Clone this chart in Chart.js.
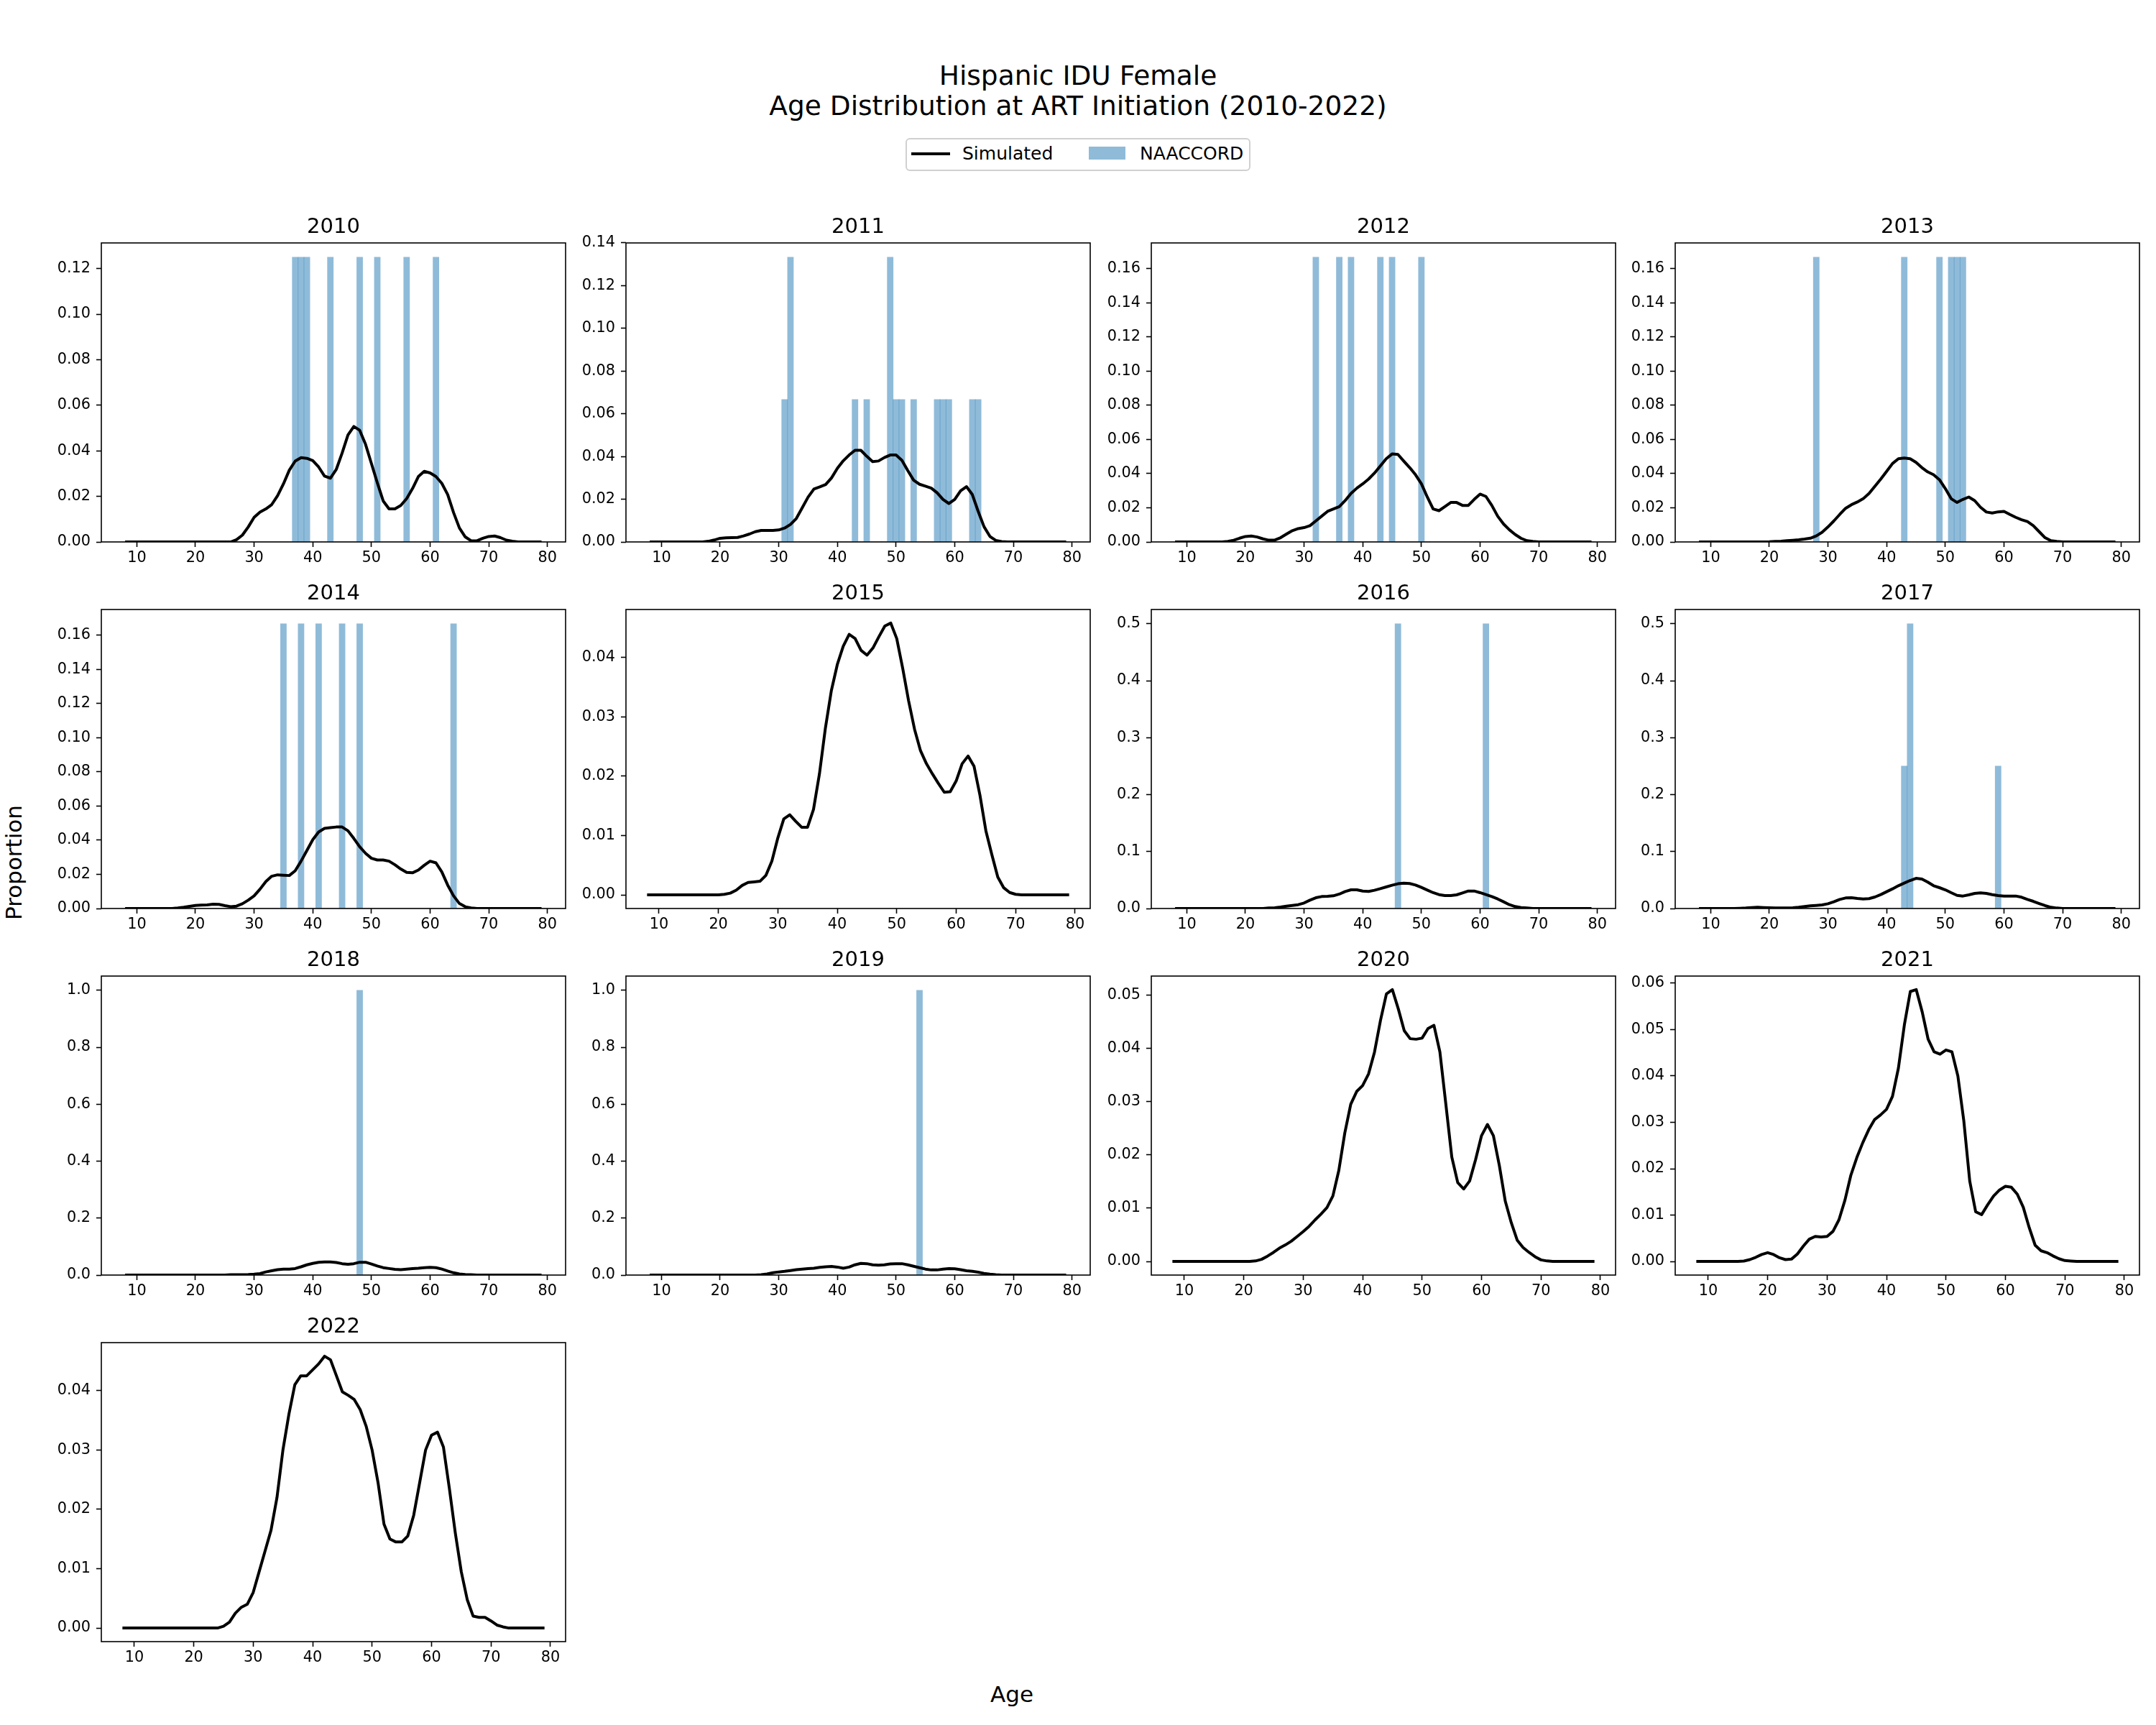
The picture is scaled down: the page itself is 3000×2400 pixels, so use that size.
<!DOCTYPE html>
<html><head><meta charset="utf-8">
<script src="https://cdn.jsdelivr.net/npm/chart.js@4"></script>
<style>
html,body{margin:0;padding:0;background:#fff;}
body{width:3000px;height:2400px;position:relative;overflow:hidden;font-family:"DejaVu Sans";}
canvas{position:absolute;}
.txt{position:absolute;color:#000;white-space:nowrap;font-family:"DejaVu Sans";}
</style></head><body>
<div class="txt" style="left:0;width:3000px;top:84px;text-align:center;font-size:37.5px;line-height:42px;">Hispanic IDU Female<br>Age Distribution at ART Initiation (2010-2022)</div>
<div style="position:absolute;left:1260px;top:192px;width:476px;height:42px;border:2px solid #d0d0d0;border-radius:6px;background:#fff;"></div>
<div style="position:absolute;left:1268px;top:212px;width:54px;height:4px;background:#000;"></div>
<div class="txt" style="left:1339px;top:199px;font-size:25px;line-height:30px;">Simulated</div>
<div style="position:absolute;left:1515px;top:204px;width:51px;height:18px;background:rgba(31,119,180,0.5);"></div>
<div class="txt" style="left:1586px;top:199px;font-size:25px;line-height:30px;">NAACCORD</div>
<div class="txt" style="left:19px;top:1200px;font-size:31px;transform:translate(-50%,-50%) rotate(-90deg);">Proportion</div>
<div class="txt" style="left:1408px;top:2357px;font-size:31px;transform:translate(-50%,-50%);">Age</div>
<script>
// ---------------- DATA ----------------
const years = [2010,2011,2012,2013,2014,2015,2016,2017,2018,2019,2020,2021,2022];
const ages = [8,9,10,11,12,13,14,15,16,17,18,19,20,21,22,23,24,25,26,27,28,29,30,31,32,33,34,35,36,37,38,39,40,41,42,43,44,45,46,47,48,49,50,51,52,53,54,55,56,57,58,59,60,61,62,63,64,65,66,67,68,69,70,71,72,73,74,75,76,77,78,79];
const xTicks = [10,20,30,40,50,60,70,80];

// Simulated proportions by age (ages 8..79)
const sim2010 = [0,0,0,0,0,0,0,0,0,0,0,0,0,0,0,0,0,0,0,
 0.001,0.003,0.0066,0.0108,0.0131,0.0145,0.0164,0.0203,0.0255,0.0315,0.0355,0.037,0.0367,0.0357,0.0329,0.0289,0.028,0.0318,0.039,0.047,0.0507,0.049,0.0428,0.0344,0.026,0.018,0.0145,0.0145,0.016,0.019,0.0234,0.0287,0.031,0.0303,0.0287,0.0257,0.0208,0.0129,0.0061,0.0022,0.0005,0.0005,0.0016,0.0024,0.0026,0.0019,0.0008,0.0003,
 0,0,0,0,0];
const sim2011 = [0,0,0,0,0,0,0,0,0,0,
 0.0003,0.0009,0.0017,0.0019,0.002,0.0021,0.0028,0.0037,0.0048,0.0054,0.0054,0.0054,0.0056,0.0065,0.0082,0.011,0.016,0.021,0.0248,0.0258,0.0269,0.030,0.0345,0.038,0.0407,0.0429,0.0429,0.0401,0.0376,0.0379,0.0395,0.0407,0.0407,0.0382,0.0334,0.0289,0.027,0.0261,0.0252,0.023,0.0199,0.018,0.0199,0.0239,0.0259,0.0222,0.0143,0.0071,0.0026,0.0007,0.0002,
 0,0,0,0,0,0,0,0,0,0,0];
const sim2012 = [0,0,0,0,0,0,0,0,0,
 0.0003,0.001,0.0022,0.0032,0.0035,0.0029,0.0018,0.001,0.0011,0.0025,0.0046,0.0066,0.0078,0.0084,0.0095,0.0123,0.0151,0.0179,0.0193,0.0207,0.0242,0.0284,0.0315,0.034,0.0368,0.0403,0.0445,0.0487,0.0515,0.0512,0.0473,0.0435,0.0393,0.034,0.0263,0.0193,0.0183,0.0207,0.0231,0.0231,0.0214,0.0214,0.0249,0.028,0.0266,0.0214,0.0151,0.0105,0.0071,0.0043,0.0021,0.0007,0.0003,
 0,0,0,0,0,0,0,0,0,0];
const sim2013 = [0,0,0,0,0,0,0,0,0,0,0,0,
 0.0001,0.0003,0.0004,0.0007,0.001,0.0013,0.0017,0.0022,0.0035,0.0057,0.0088,0.0123,0.0161,0.0197,0.0218,0.0234,0.0253,0.0284,0.0326,0.0368,0.0413,0.0459,0.0487,0.0491,0.0487,0.0466,0.0435,0.041,0.0393,0.0364,0.0312,0.0253,0.0231,0.0249,0.0263,0.0242,0.0203,0.0175,0.0169,0.0176,0.0179,0.0161,0.0144,0.013,0.0119,0.0095,0.006,0.0025,0.0007,0.0003,
 0,0,0,0,0,0,0,0,0,0];
const sim2014 = [0,0,0,0,0,0,0,0,0,
 0.0003,0.0007,0.0013,0.0018,0.002,0.0021,0.0025,0.0024,0.0017,0.0011,0.0014,0.0028,0.0049,0.0074,0.0113,0.0158,0.0189,0.0197,0.0195,0.0193,0.0221,0.0277,0.034,0.0403,0.0448,0.0469,0.0473,0.0477,0.0477,0.0455,0.041,0.0361,0.0323,0.0294,0.0284,0.0284,0.0277,0.0256,0.0231,0.0211,0.0209,0.0225,0.0253,0.0277,0.0267,0.0214,0.0137,0.0074,0.0029,0.001,0.0003,
 0,0,0,0,0,0,0,0,0,0,0,0];
const sim2015 = [0,0,0,0,0,0,0,0,0,0,0,0,0,
 0.0001,0.0003,0.0008,0.0016,0.0021,0.0022,0.0023,0.0033,0.0057,0.0096,0.0128,0.0135,0.0124,0.0114,0.0114,0.0144,0.0204,0.0281,0.0344,0.0388,0.0419,0.0439,0.0432,0.0412,0.0404,0.0416,0.0435,0.0453,0.0458,0.0432,0.0382,0.0327,0.0279,0.0243,0.0221,0.0204,0.0188,0.0173,0.0174,0.0192,0.0221,0.0234,0.0217,0.0168,0.0108,0.0068,0.003,0.0012,0.0004,0.0001,
 0,0,0,0,0,0,0,0,0];
const sim2016 = [0,0,0,0,0,0,0,0,0,0,0,0,0,0,0,0,
 0.0008,0.0013,0.0025,0.0042,0.0055,0.0067,0.0097,0.0147,0.0189,0.021,0.0215,0.0223,0.0253,0.0299,0.0328,0.0328,0.0307,0.0299,0.032,0.0349,0.0379,0.0408,0.0434,0.0446,0.0438,0.0412,0.037,0.0324,0.0278,0.0244,0.0227,0.0227,0.024,0.0274,0.0307,0.0307,0.0278,0.0244,0.021,0.0168,0.0118,0.0067,0.0034,0.0017,0.0008,
 0,0,0,0,0,0,0,0,0,0,0];
const sim2017 = [0,0,0,0,0,0,0,
 0.0004,0.0008,0.0017,0.0021,0.0017,0.0013,0.0008,0.0008,0.0008,0.0013,0.0021,0.0034,0.0046,0.0055,0.0063,0.0084,0.0118,0.016,0.0185,0.0189,0.0177,0.0168,0.0173,0.0202,0.0244,0.0295,0.0345,0.04,0.0446,0.0492,0.053,0.0518,0.0463,0.04,0.0366,0.0328,0.0278,0.0231,0.0219,0.024,0.0265,0.0274,0.0265,0.0244,0.0227,0.0219,0.0219,0.0219,0.0198,0.016,0.0126,0.0088,0.0051,0.0021,0.0008,
 0,0,0,0,0,0,0,0,0,0];
const sim2018 = [0,0,0,0,0,0,0,0,0,0,0,0,0,0,0,0,0,0,
 0.001,0.001,0.0015,0.002,0.003,0.005,0.011,0.015,0.019,0.021,0.021,0.023,0.029,0.036,0.041,0.045,0.046,0.046,0.044,0.04,0.038,0.04,0.045,0.045,0.039,0.032,0.026,0.023,0.02,0.019,0.021,0.023,0.024,0.026,0.027,0.026,0.021,0.014,0.008,0.004,0.002,0.001,
 0,0,0,0,0,0,0,0,0,0,0,0];
const sim2019 = [0,0,0,0,0,0,0,0,0,0,0,0,0,0,0,0,0,0,0,
 0.001,0.004,0.008,0.011,0.013,0.016,0.019,0.021,0.023,0.024,0.027,0.029,0.03,0.028,0.024,0.028,0.036,0.041,0.04,0.036,0.035,0.036,0.039,0.04,0.04,0.036,0.031,0.026,0.021,0.018,0.018,0.021,0.023,0.022,0.019,0.015,0.013,0.01,0.006,0.003,0.001,
 0,0,0,0,0,0,0,0,0,0,0,0];
const sim2020 = [0,0,0,0,0,0,0,0,0,0,0,0,0,0,
 0.0001,0.0004,0.001,0.0017,0.0025,0.0031,0.0038,0.0047,0.0056,0.0066,0.0078,0.0089,0.0101,0.0123,0.0171,0.0241,0.0295,0.0319,0.033,0.0352,0.0393,0.0452,0.0502,0.051,0.0474,0.0433,0.0418,0.0417,0.0419,0.0437,0.0443,0.0393,0.0295,0.0196,0.0148,0.0136,0.0151,0.0191,0.0236,0.0257,0.0236,0.018,0.0113,0.0073,0.004,0.0026,0.0017,0.0009,0.0003,0.0001,
 0,0,0,0,0,0,0,0];
const sim2021 = [0,0,0,0,0,0,0,0,
 0.0001,0.0004,0.0009,0.0015,0.0019,0.0015,0.0008,0.0004,0.0005,0.0016,0.0033,0.0048,0.0054,0.0053,0.0054,0.0065,0.009,0.0132,0.0186,0.0224,0.0256,0.0284,0.0306,0.0316,0.0328,0.0356,0.0417,0.051,0.0582,0.0586,0.0538,0.0479,0.0452,0.0447,0.0456,0.0452,0.04,0.0303,0.0173,0.0107,0.0101,0.0122,0.0141,0.0154,0.0162,0.016,0.0145,0.0117,0.0073,0.0035,0.0023,0.0019,0.0012,0.0006,0.0002,0.0001,
 0,0,0,0,0,0,0,0];
const sim2022 = [0,0,0,0,0,0,0,0,0,0,0,0,0,0,0,0,0,
 0.0003,0.001,0.0025,0.0035,0.004,0.006,0.0095,0.013,0.0165,0.022,0.03,0.036,0.041,0.0425,0.0425,0.0435,0.0445,0.0458,0.0452,0.0425,0.0398,0.0392,0.0385,0.0368,0.034,0.03,0.0245,0.0175,0.015,0.0145,0.0145,0.0155,0.019,0.0245,0.03,0.0325,0.033,0.0305,0.0235,0.016,0.0095,0.0048,0.002,0.0018,0.0018,0.0012,0.0005,0.0002,
 0,0,0,0,0,0,0];

// NAACCORD observed proportions (age bins of 1 year)
const naaAges2010 = [37,38,39,43,48,51,56,61];
const naaProp2010 = [0.125,0.125,0.125,0.125,0.125,0.125,0.125,0.125];
const naaAges2011 = [31,32,43,45,49,50,51,53,57,58,59,63,64];
const naaProp2011 = [0.06667,0.13333,0.06667,0.06667,0.13333,0.06667,0.06667,0.06667,0.06667,0.06667,0.06667,0.06667,0.06667];
const naaAges2012 = [32,36,38,43,45,50];
const naaProp2012 = [0.16667,0.16667,0.16667,0.16667,0.16667,0.16667];
const naaAges2013 = [28,43,49,51,52,53];
const naaProp2013 = [0.16667,0.16667,0.16667,0.16667,0.16667,0.16667];
const naaAges2014 = [35,38,41,45,48,64];
const naaProp2014 = [0.16667,0.16667,0.16667,0.16667,0.16667,0.16667];
const naaAges2016 = [46,61];
const naaProp2016 = [0.5,0.5];
const naaAges2017 = [43,44,59];
const naaProp2017 = [0.25,0.5,0.25];
const naaAges2018 = [48];
const naaProp2018 = [1.0];
const naaAges2019 = [54];
const naaProp2019 = [1.0];

// y tick labels per panel
const yTicks012 = [0,0.02,0.04,0.06,0.08,0.10,0.12];
const yTicks014 = [0,0.02,0.04,0.06,0.08,0.10,0.12,0.14];
const yTicks016 = [0,0.02,0.04,0.06,0.08,0.10,0.12,0.14,0.16];
const yTicks004 = [0,0.01,0.02,0.03,0.04];
const yTicks005 = [0,0.01,0.02,0.03,0.04,0.05];
const yTicks006 = [0,0.01,0.02,0.03,0.04,0.05,0.06];
const yTicks05 = [0,0.1,0.2,0.3,0.4,0.5];
const yTicks10 = [0,0.2,0.4,0.6,0.8,1.0];

// ---------------- BUILD ----------------
const simByYear = {2010:sim2010,2011:sim2011,2012:sim2012,2013:sim2013,2014:sim2014,2015:sim2015,2016:sim2016,2017:sim2017,2018:sim2018,2019:sim2019,2020:sim2020,2021:sim2021,2022:sim2022};
const naaByYear = {
  2010:[naaAges2010,naaProp2010],2011:[naaAges2011,naaProp2011],2012:[naaAges2012,naaProp2012],
  2013:[naaAges2013,naaProp2013],2014:[naaAges2014,naaProp2014],2016:[naaAges2016,naaProp2016],
  2017:[naaAges2017,naaProp2017],2018:[naaAges2018,naaProp2018],2019:[naaAges2019,naaProp2019]};
const yTicksByYear = {2010:yTicks012,2011:yTicks014,2012:yTicks016,2013:yTicks016,2014:yTicks016,2015:yTicks004,
  2016:yTicks05,2017:yTicks05,2018:yTicks10,2019:yTicks10,2020:yTicks005,2021:yTicks006,2022:yTicks004};
const yDecByYear = {2010:2,2011:2,2012:2,2013:2,2014:2,2015:2,2016:1,2017:1,2018:1,2019:1,2020:2,2021:2,2022:2};

const plotLefts = [141, 871, 1602, 2331];
const plotTops = [338, 848, 1358, 1868];
const PW = 646, PH = 416, ML = 100, MR = 100, MT = 60, MB = 50;
const xLimBars = [3.95, 83.1];

Chart.defaults.font.family = 'DejaVu Sans';
Chart.defaults.color = '#000';

const framePlugin = {
  id: 'frame',
  afterDraw(chart) {
    const {ctx, chartArea: a} = chart;
    ctx.save();
    ctx.strokeStyle = '#000';
    ctx.lineWidth = 1.6;
    ctx.strokeRect(a.left, a.top, a.right - a.left, a.bottom - a.top);
    ctx.restore();
  }
};

years.forEach((year, i) => {
  const col = i % 4, row = Math.floor(i / 4);
  const px = plotLefts[col], py = plotTops[row];
  const cv = document.createElement('canvas');
  const W = ML + PW + MR, H = MT + PH + MB;
  cv.width = W; cv.height = H;
  cv.style.left = (px - ML) + 'px'; cv.style.top = (py - MT) + 'px';
  cv.style.width = W + 'px'; cv.style.height = H + 'px';
  document.body.appendChild(cv);

  const sim = simByYear[year];
  const datasets = [{
    type: 'line', label: 'Simulated',
    data: ages.map((a, k) => ({x: a, y: sim[k]})),
    borderColor: '#000', borderWidth: 4, pointRadius: 0, tension: 0, fill: false, order: 0,
    borderJoinStyle: 'round', borderCapStyle: 'butt'
  }];
  let xmin, xmax, ymin, ymax;
  const simMax = Math.max(...sim);
  const naa = naaByYear[year];
  if (naa) {
    const m = new Map(naa[0].map((a, k) => [a, naa[1][k]]));
    datasets.push({
      type: 'bar', label: 'NAACCORD',
      data: ages.map(a => ({x: a, y: m.has(a) ? m.get(a) : 0})),
      backgroundColor: 'rgba(31,119,180,0.5)', borderWidth: 0,
      barPercentage: 1, categoryPercentage: 1, order: 1
    });
    const bmax = Math.max(...naa[1]);
    ymin = 0; ymax = 1.05 * bmax;
    xmin = xLimBars[0]; xmax = xLimBars[1];
  } else {
    const r = simMax;
    ymin = -0.05 * r; ymax = simMax + 0.05 * r;
    const ar = ages[ages.length - 1] - ages[0];
    xmin = ages[0] - 0.05 * ar; xmax = ages[ages.length - 1] + 0.05 * ar;
  }
  const yt = yTicksByYear[year], dec = yDecByYear[year];
  const gridOpts = {display: true, drawOnChartArea: false, drawTicks: true, tickLength: 7, tickWidth: 1.6, tickColor: '#000', offset: false};

  new Chart(cv, {
    type: naa ? 'bar' : 'line',
    data: {datasets},
    plugins: [framePlugin],
    options: {
      responsive: false, animation: false, devicePixelRatio: 1,
      layout: {padding: {left: 0, right: MR, top: 0, bottom: 0}},
      plugins: {
        legend: {display: false}, tooltip: {enabled: false},
        title: {display: true, fullSize: false, text: String(year), color: '#000',
          font: {family: 'DejaVu Sans', size: 29, weight: 'normal', lineHeight: 1.2},
          padding: {top: 20.6, bottom: 4.6}}
      },
      scales: {
        x: {
          type: 'linear', min: xmin, max: xmax, offset: false,
          grid: gridOpts, border: {display: false},
          ticks: {font: {size: 20.8}, color: '#000', padding: 3, maxRotation: 0, autoSkip: false,
            callback: v => String(v)},
          afterBuildTicks: s => { s.ticks = xTicks.map(v => ({value: v})); },
          afterFit: s => { s.height = MB; }
        },
        y: {
          type: 'linear', min: ymin, max: ymax,
          grid: gridOpts, border: {display: false},
          ticks: {font: {size: 20.8}, color: '#000', padding: 8, autoSkip: false,
            callback: v => Number(v).toFixed(dec)},
          afterBuildTicks: s => { s.ticks = yt.map(v => ({value: v})); },
          afterFit: s => { s.width = ML; }
        }
      }
    }
  });
});
</script>
</body></html>
